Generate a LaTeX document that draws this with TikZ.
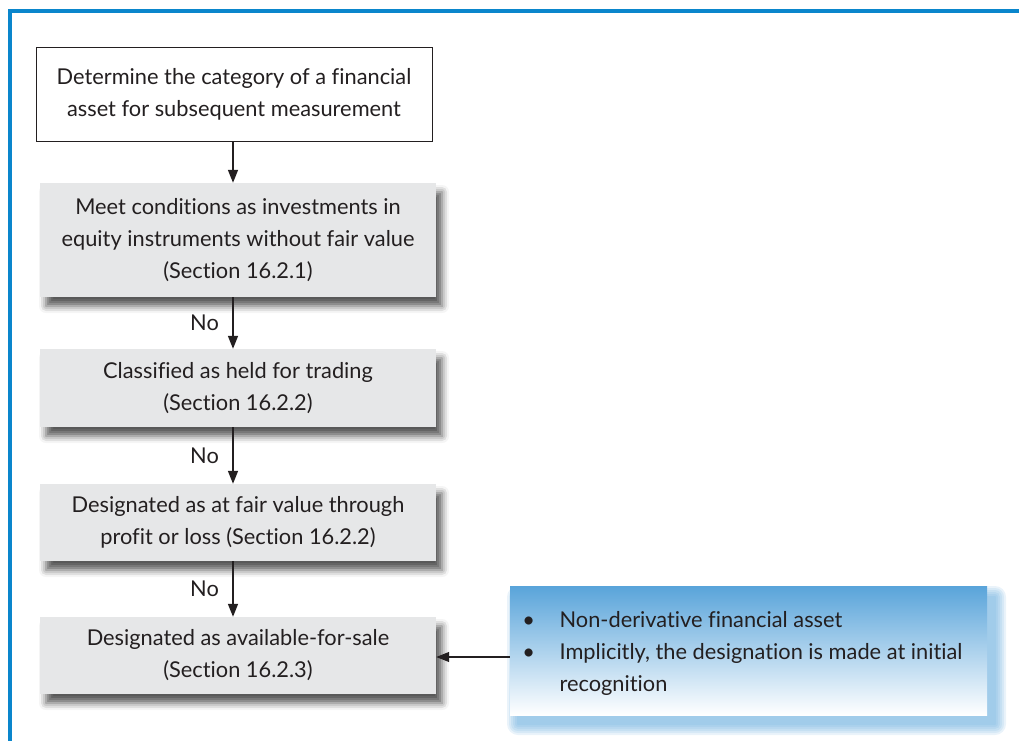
\documentclass[tikz,border=0pt]{standalone}
\usepackage{fontspec}
\usepackage{array}
\setmainfont[Ligatures=NoCommon]{Lato}
\usetikzlibrary{arrows.meta,shadows.blur}
\definecolor{frameblue}{HTML}{0A86CC}
\definecolor{boxgray}{HTML}{E6E7E8}
\definecolor{inkgray}{HTML}{231F20}
\definecolor{noteblue}{HTML}{59A4DA}
\begin{document}
\begin{tikzpicture}[x=1pt,y=-1pt,
  every node/.style={font=\fontsize{21.8}{32}\selectfont, text=inkgray},
  startbox/.style={draw=inkgray, line width=1pt, fill=white, align=center,
    minimum width=396pt, inner sep=0pt},
  stepbox/.style={fill=boxgray, align=center, minimum width=396pt, inner sep=0pt,
    blur shadow={shadow xshift=6pt, shadow yshift=-9pt, shadow blur radius=7pt,
      shadow opacity=65}},
  notebox/.style={top color=noteblue, bottom color=white,
    minimum width=477pt, minimum height=129pt, inner sep=0pt},
  flow/.style={draw=inkgray, line width=1.6pt,
    -{Triangle[width=10pt,length=13pt]}},
  nolabel/.style={left=10pt, font=\fontsize{21.8}{24}\selectfont}
]
\useasboundingbox (0,0) rectangle (1019,741);
% outer frame
\fill[frameblue] (8,9) rectangle (1019,13);
\fill[frameblue] (8,9) rectangle (12,741);

\node[startbox, minimum height=93pt] (s0) at (234,94.5)
  {Determine the category of a financial\\asset for subsequent measurement};
\node[stepbox, minimum height=114pt] (s1) at (238,240)
  {Meet conditions as investments in\\equity instruments without fair value\\(Section 16.2.1)};
\node[stepbox, minimum height=78pt] (s2) at (238,388)
  {Classified as held for trading\\(Section 16.2.2)};
\node[stepbox, minimum height=77pt] (s3) at (238,522.5)
  {Designated as at fair value through\\profit or loss (Section 16.2.2)};
\node[stepbox, minimum height=77pt] (s4) at (238,655.5)
  {Designated as available-for-sale\\(Section 16.2.3)};

% soft blue glow behind the note box
\foreach \r in {11,9,7,5,3,1}
  \fill[noteblue, opacity=0.13, rounded corners=\r pt]
    (518-\r,597-\r) rectangle (995+\r,724+\r);

\node[notebox] (note) at (748.5,650.5)
  {\raisebox{-3pt}[\height][\depth]{%
   \begin{tabular}{@{\hspace{12pt}}c@{\hspace{24.5pt}}>{\raggedright\arraybackslash}p{420pt}@{}}
    \textbullet & Non-derivative financial asset\\
    \textbullet & Implicitly, the designation is made at initial\\
      & recognition
  \end{tabular}}\hspace*{7pt}};

\draw[flow] (s0.south -| 233,0) -- (s1.north -| 233,0);
\draw[flow] (s1.south -| 233,0) -- node[nolabel]{No} (s2.north -| 233,0);
\draw[flow] (s2.south -| 233,0) -- node[nolabel]{No} (s3.north -| 233,0);
\draw[flow] (s3.south -| 233,0) -- node[nolabel]{No} (s4.north -| 233,0);
\draw[flow, line width=1.2pt] (note.west |- 0,657) -- (s4.east |- 0,657);
\end{tikzpicture}
\end{document}
